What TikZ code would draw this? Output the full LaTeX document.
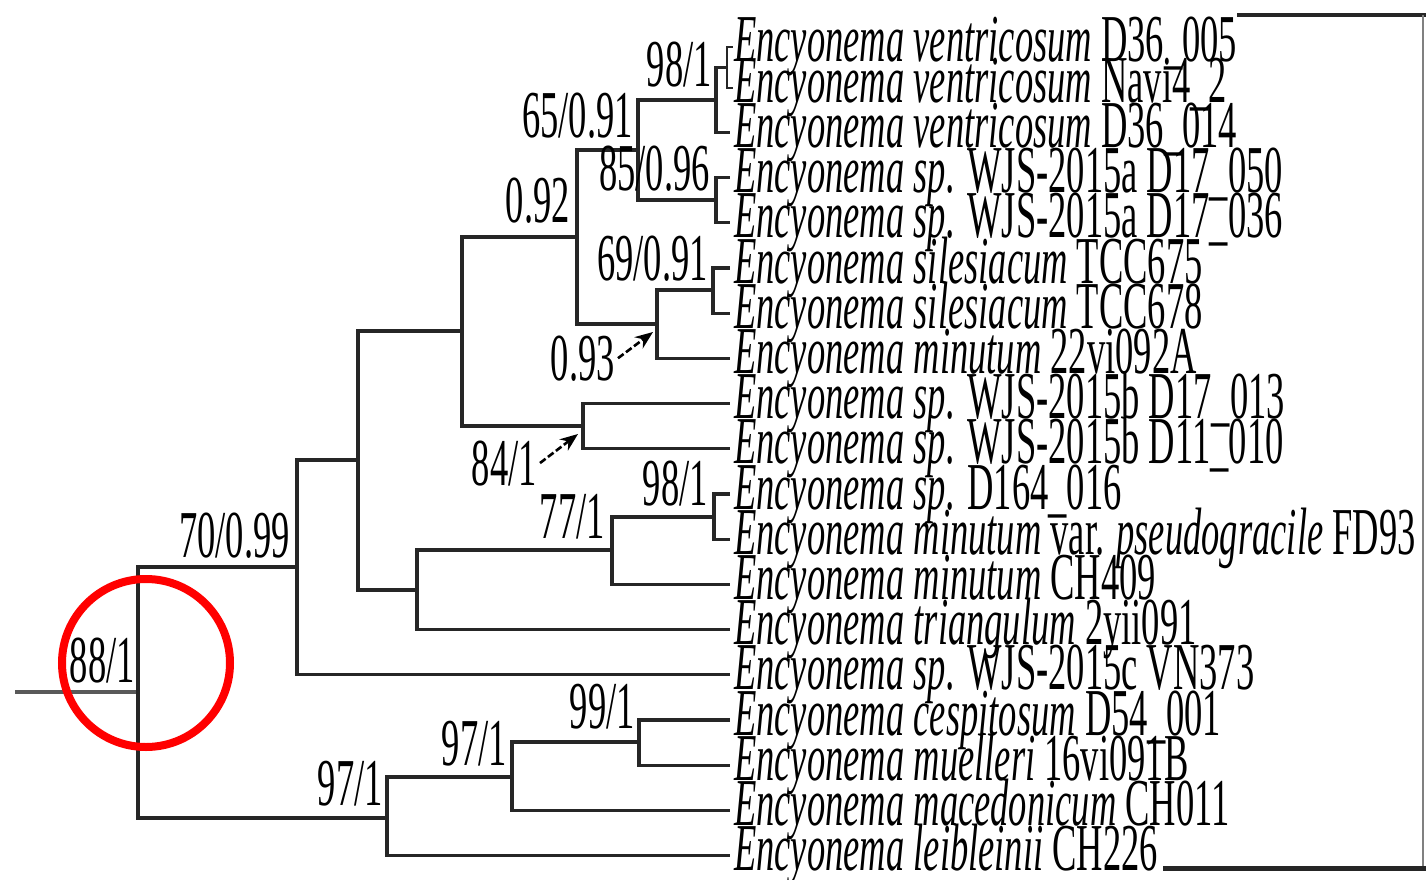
\documentclass[tikz,border=0pt]{standalone}
\usepackage{fontspec}
\setmainfont{Liberation Serif}[FakeStretch=0.545]
\usetikzlibrary{arrows.meta}
\newcommand\Enc[1]{\textit{Encyonema #1}}
\begin{document}
\begin{tikzpicture}[x=1pt,y=-1pt,
  br/.style={line width=3.2pt, draw=black!85},
  thin br/.style={line width=2pt, draw=black!85},
  tx/.style={font=\fontsize{67}{67}\selectfont, inner sep=0pt, anchor=base west},
  sup/.style={font=\fontsize{67}{67}\selectfont, inner sep=0pt, anchor=base east},
  arr/.style={line width=2.6pt, dash pattern=on 7pt off 3pt, -{Stealth[length=18pt,width=14pt]}},
  frame/.style={draw=black!85}]
\useasboundingbox (0,0) rectangle (1426,880);
% internal nodes
\coordinate (stem) at (15,692);
\coordinate (R) at (138,692);
\coordinate (A) at (297,567);
\coordinate (B) at (358,460);
\coordinate (C) at (462,331);
\coordinate (D) at (577,237);
\coordinate (E) at (638,150);
\coordinate (F) at (716,100);
\coordinate (G) at (727,67.5);
\coordinate (H) at (716,200);
\coordinate (I) at (657,324);
\coordinate (J) at (713,290);
\coordinate (K) at (583,426);
\coordinate (L) at (417,590);
\coordinate (M) at (612,550);
\coordinate (N) at (714,517);
\coordinate (O) at (387,818);
\coordinate (P) at (512,777);
\coordinate (Q) at (639,742);
% leaves
\coordinate (t0) at (733,47);
\coordinate (t1) at (733,88);
\coordinate (t2) at (730,132.4);
\coordinate (t3) at (730,177.6);
\coordinate (t4) at (730,222.8);
\coordinate (t5) at (730,268);
\coordinate (t6) at (730,313.2);
\coordinate (t7) at (730,358.4);
\coordinate (t8) at (730,403.6);
\coordinate (t9) at (730,448.8);
\coordinate (t10) at (730,494);
\coordinate (t11) at (730,539.2);
\coordinate (t12) at (730,584.4);
\coordinate (t13) at (730,629.6);
\coordinate (t14) at (730,674.8);
\coordinate (t15) at (730,720);
\coordinate (t16) at (730,765.2);
\coordinate (t17) at (730,810.4);
\coordinate (t18) at (730,855.6);
% branches
\draw[br, draw=black!65, line width=4pt] (stem) -- (R);
\draw[br] (R) |- (A);
\draw[br] (R) |- (O);
\draw[br] (A) |- (B);
\draw[br] (A) |- (t14);
\draw[br] (B) |- (C);
\draw[br] (B) |- (L);
\draw[br] (C) |- (D);
\draw[br] (C) |- (K);
\draw[br] (D) |- (E);
\draw[br] (D) |- (I);
\draw[br] (E) |- (F);
\draw[br] (E) |- (H);
\draw[br] (F) |- (G);
\draw[br] (F) |- (t2);
\draw[thin br] (G) |- (t0);
\draw[thin br] (G) |- (t1);
\draw[br] (H) |- (t3);
\draw[br] (H) |- (t4);
\draw[br] (I) |- (J);
\draw[br] (I) |- (t7);
\draw[br] (J) |- (t5);
\draw[br] (J) |- (t6);
\draw[br] (K) |- (t8);
\draw[br] (K) |- (t9);
\draw[br] (L) |- (M);
\draw[br] (L) |- (t13);
\draw[br] (M) |- (N);
\draw[br] (M) |- (t12);
\draw[br] (N) |- (t10);
\draw[br] (N) |- (t11);
\draw[br] (O) |- (P);
\draw[br] (O) |- (t18);
\draw[br] (P) |- (Q);
\draw[br] (P) |- (t17);
\draw[br] (Q) |- (t15);
\draw[br] (Q) |- (t16);
% leaf labels
\node[tx] (n0) at (734,62) {\Enc{ventricosum} D36\_005};
\node[tx] (n1) at (734,103) {\Enc{ventricosum} Navi4\_2};
\node[tx] (n2) at (734,147.4) {\Enc{ventricosum} D36\_014};
\node[tx] (n3) at (734,192.6) {\Enc{sp.} WJS-2015a D17\_050};
\node[tx] (n4) at (734,237.8) {\Enc{sp.} WJS-2015a D17\_036};
\node[tx] (n5) at (734,283) {\Enc{silesiacum} TCC675};
\node[tx] (n6) at (734,328.2) {\Enc{silesiacum} TCC678};
\node[tx] (n7) at (734,373.4) {\Enc{minutum} 22vi092A};
\node[tx] (n8) at (734,418.6) {\Enc{sp.} WJS-2015b D17\_013};
\node[tx] (n9) at (734,463.8) {\Enc{sp.} WJS-2015b D11\_010};
\node[tx] (n10) at (734,509) {\Enc{sp.} D164\_016};
\node[tx] (n11) at (734,554.2) {\Enc{minutum} var. \textit{pseudogracile} FD93};
\node[tx] (n12) at (734,599.4) {\Enc{minutum} CH409};
\node[tx] (n13) at (734,644.6) {\Enc{triangulum} 2yii091};
\node[tx] (n14) at (734,689.8) {\Enc{sp.} WJS-2015c VN373};
\node[tx] (n15) at (734,735) {\Enc{cespitosum} D54\_001};
\node[tx] (n16) at (734,780.2) {\Enc{muelleri} 16vi091B};
\node[tx] (n17) at (734,825.4) {\Enc{macedonicum} CH011};
\node[tx] (n18) at (734,870.6) {\Enc{leibleinii} CH226};
% support values
\node[sup] (s88) at (135,682) {88/1};
\node[sup] (s70) at (290,557) {70/0.99};
\node[sup] (s092) at (570,222) {0.92};
\node[sup] (s65) at (633,138) {65/0.91};
\node[sup] (s98a) at (712,87) {98/1};
\node[sup] (s85) at (710,190) {85/0.96};
\node[sup] (s69) at (708,280) {69/0.91};
\node[sup] (s093) at (615,380) {0.93};
\node[sup] (s84) at (537,485) {84/1};
\node[sup] (s98b) at (708,505) {98/1};
\node[sup] (s77) at (605,538) {77/1};
\node[sup] (s99) at (635,728) {99/1};
\node[sup] (s97a) at (507,765) {97/1};
\node[sup] (s97b) at (383,805) {97/1};
% arrows
\coordinate (a093) at (653,332);
\coordinate (a84) at (578,434);
\draw[arr] ([xshift=3pt]s093.east) -- (a093);
\draw[arr] ([xshift=3pt]s84.east) -- (a84);
% frame fragments on the right
\coordinate (f1) at (1237,15);
\coordinate (f2) at (1423,15);
\coordinate (f3) at (1423,868);
\coordinate (f4) at (1163,868);
\draw[frame, line width=4pt] (f1) -- (1426,15);
\draw[frame, line width=1.5pt, draw=black!50] (f2) -- (f3);
\draw[frame, line width=5pt] (f4) -- (1426,868);
% red circle
\node[circle, draw=red, line width=8pt, minimum size=168pt, inner sep=0pt] (mark) at (146,663) {};
\end{tikzpicture}
\end{document}
